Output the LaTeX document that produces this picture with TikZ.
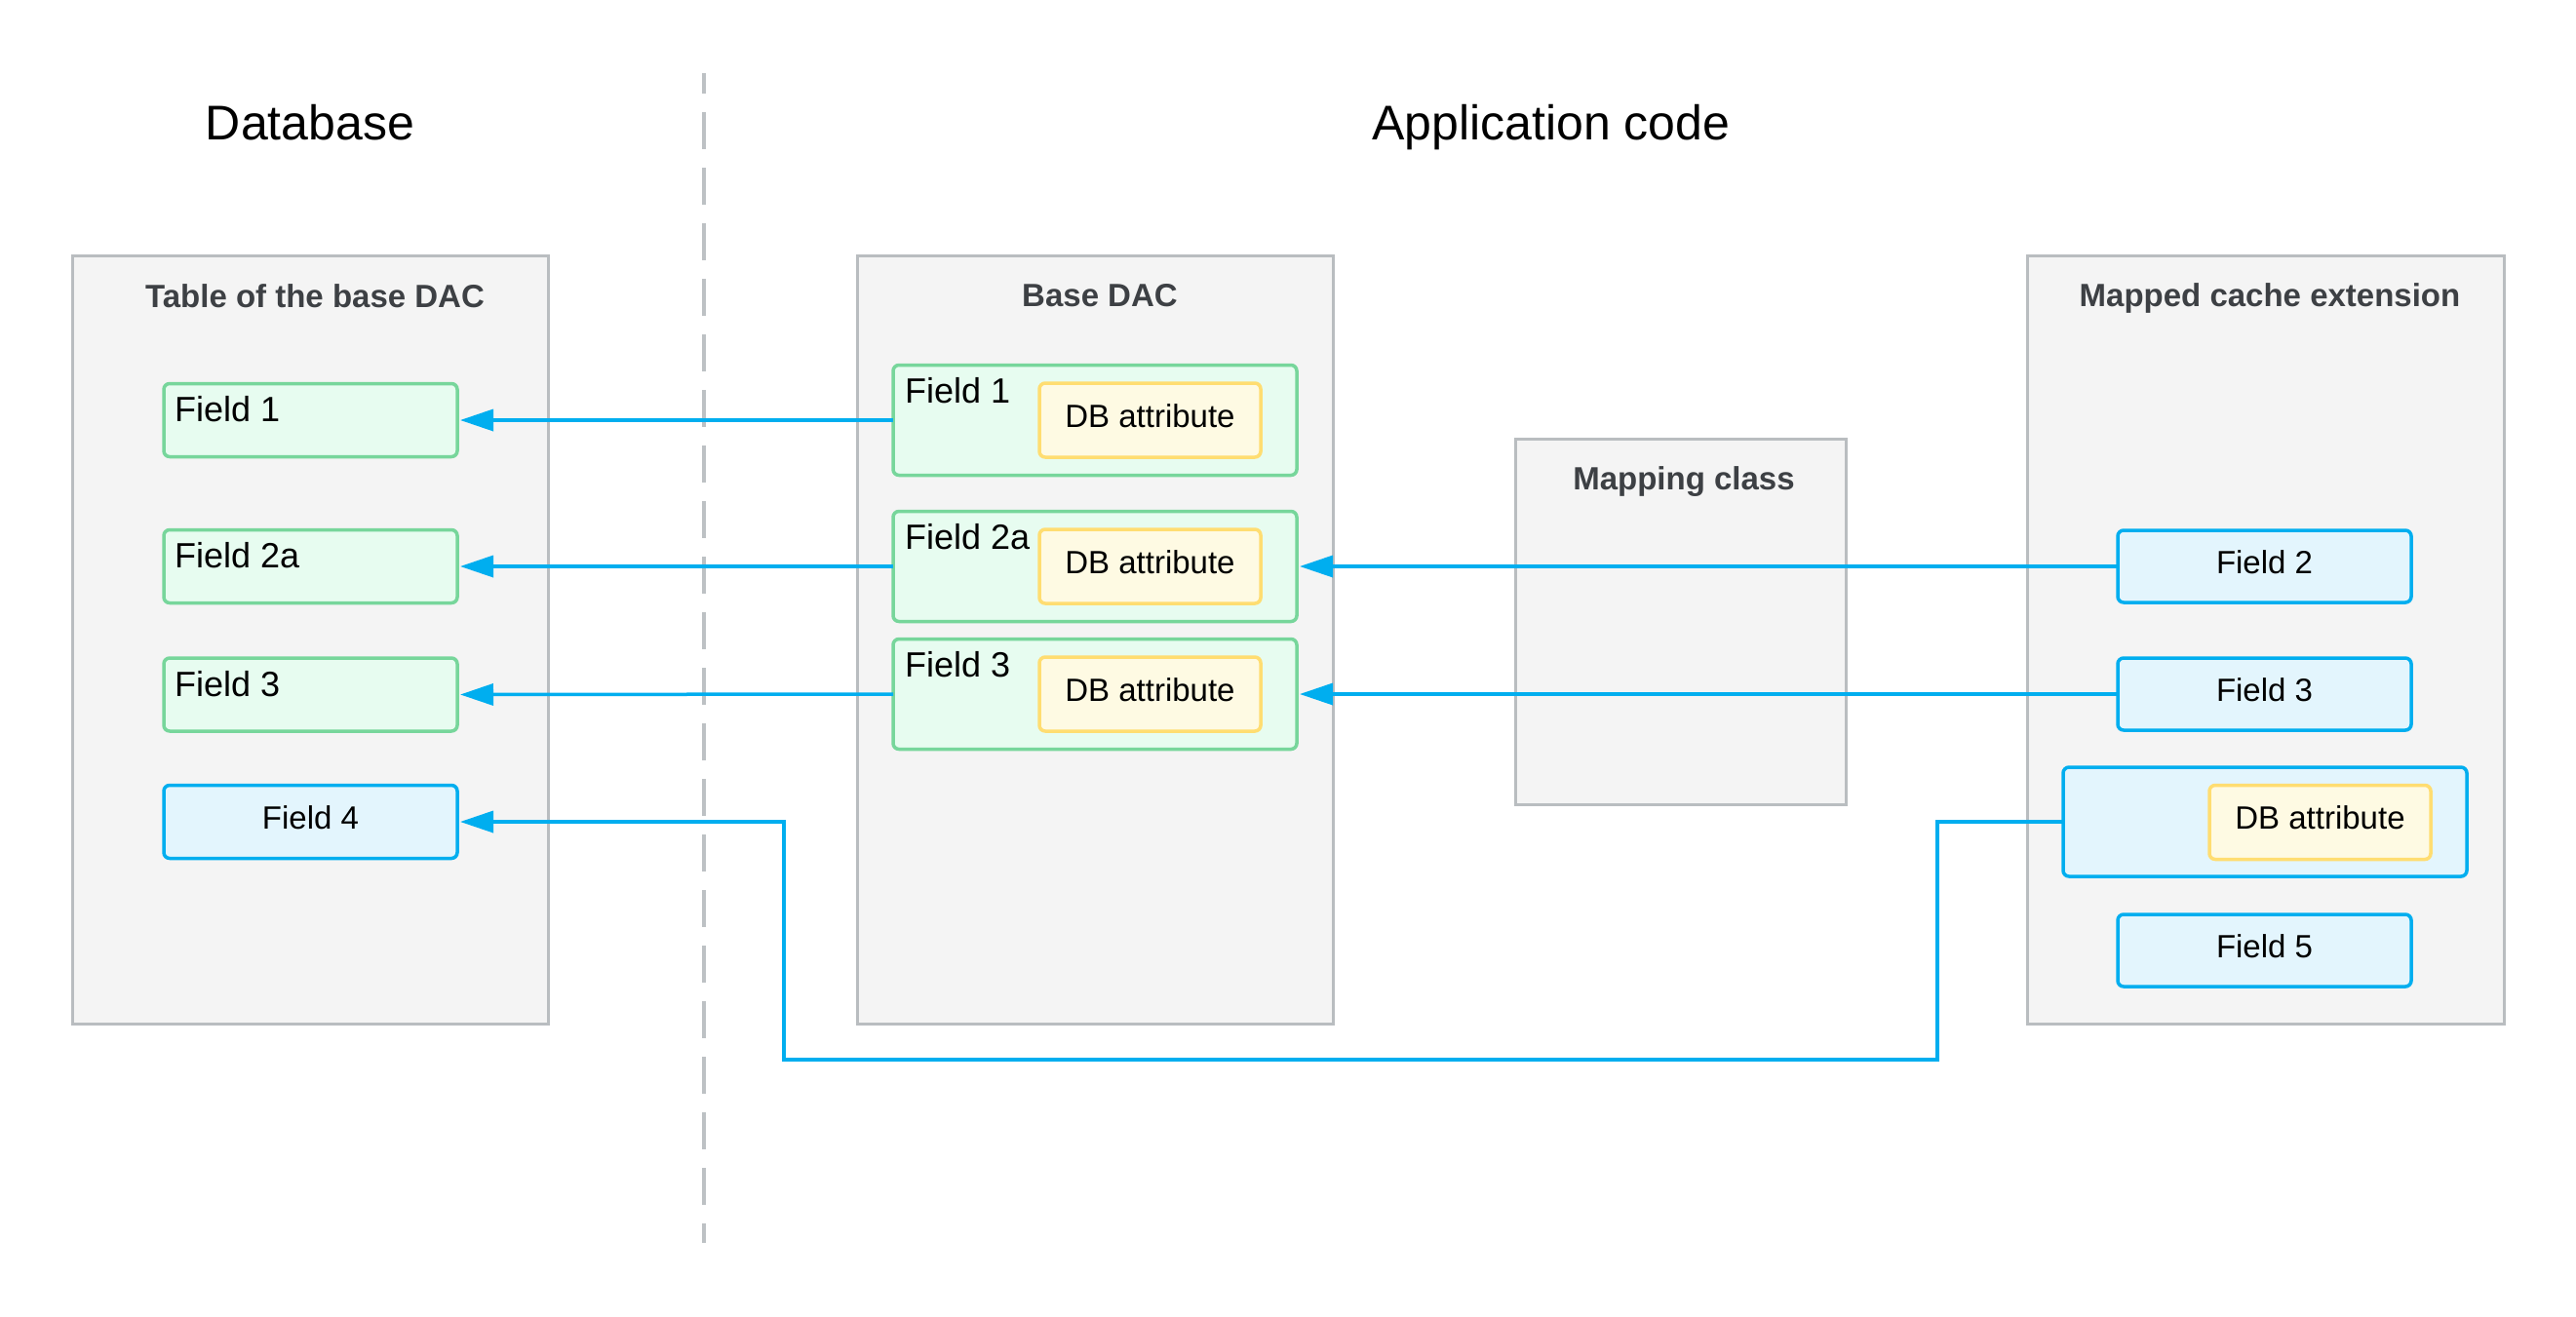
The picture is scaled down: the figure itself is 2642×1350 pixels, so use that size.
\documentclass[tikz,border=0pt]{standalone}
\usepackage{fontspec}
\setmainfont{Liberation Sans}
\usetikzlibrary{arrows.meta}
\definecolor{contfill}{HTML}{F4F4F4}
\definecolor{contdraw}{HTML}{B9BDC0}
\definecolor{greenfill}{HTML}{E7FCF0}
\definecolor{greendraw}{HTML}{77D69B}
\definecolor{bluefill}{HTML}{E3F5FD}
\definecolor{bluedraw}{HTML}{00AEEF}
\definecolor{yelfill}{HTML}{FEFAE3}
\definecolor{yeldraw}{HTML}{FFDD71}
\definecolor{titlecol}{HTML}{3D4044}
\definecolor{dashcol}{HTML}{BDC1C4}
\begin{document}
\begin{tikzpicture}[x=1pt,y=-1pt,
  container/.style={draw=contdraw, fill=contfill, line width=3pt, inner sep=0pt, outer sep=0pt},
  ctitle/.style={text=titlecol, font=\bfseries\fontsize{33}{40}\selectfont, inner sep=0pt, text height=24pt, text depth=0pt},
  heading/.style={font=\fontsize{50}{60}\selectfont, inner sep=0pt, text height=36pt, text depth=0pt},
  greenbox/.style={draw=greendraw, fill=greenfill, line width=3.5pt, rounded corners=6pt, inner sep=0pt, outer sep=0pt},
  bluebox/.style={draw=bluedraw, fill=bluefill, line width=3.5pt, rounded corners=6pt, inner sep=0pt, outer sep=0pt, font=\fontsize{33}{40}\selectfont, text height=24pt, text depth=10pt},
  yelbox/.style={draw=yeldraw, fill=yelfill, line width=3.5pt, rounded corners=6pt, inner sep=0pt, outer sep=0pt, minimum width=227pt, minimum height=76pt, font=\fontsize{33}{40}\selectfont, text height=24pt, text depth=10pt},
  lbl/.style={font=\fontsize{36}{43}\selectfont, inner sep=0pt, anchor=base west},
  conn/.style={draw=bluedraw, line width=3.5pt, -{Triangle[length=34pt,width=22pt]}, shorten >=3pt},
  divider/.style={draw=dashcol, line width=4pt, dash pattern=on 38pt off 19pt, dash phase=17pt}
]
\useasboundingbox (0,0) rectangle (2642,1350);
\fill[white] (0,0) rectangle (2642,1350);

% headings
\node[heading] (hdb) at (318,125) {Database};
\node[heading] (happ) at (1591,125) {Application code};

% divider
\coordinate (dtop) at (722,75);
\coordinate (dbot) at (722,1275);
\draw[divider] (dtop) -- (dbot);

% containers
\node[container, minimum width=488pt, minimum height=788pt] (table) at (318,656) {};
\node[ctitle] (tabletitle) at (323,303) {Table of the base DAC};
\node[container, minimum width=488pt, minimum height=788pt] (base) at (1123,656) {};
\node[ctitle] (basetitle) at (1128,302) {Base DAC};
\node[container, minimum width=339pt, minimum height=375pt] (mapping) at (1723.5,637.5) {};
\node[ctitle] (mappingtitle) at (1727,490) {Mapping class};
\node[container, minimum width=489pt, minimum height=788pt] (mapped) at (2323.5,656) {};
\node[ctitle] (mappedtitle) at (2328,302) {Mapped cache extension};

% table fields
\node[greenbox, minimum width=301pt, minimum height=75pt] (tf1) at (318.5,431) {};
\node[lbl] (tf1l) at ([shift={(11,39)}]tf1.north west) {Field 1};
\node[greenbox, minimum width=301pt, minimum height=75pt] (tf2) at (318.5,581) {};
\node[lbl] (tf2l) at ([shift={(11,39)}]tf2.north west) {Field 2a};
\node[greenbox, minimum width=301pt, minimum height=75pt] (tf3) at (318.5,712.5) {};
\node[lbl] (tf3l) at ([shift={(11,39)}]tf3.north west) {Field 3};
\node[bluebox, minimum width=301pt, minimum height=75pt] (tf4) at (318.5,843) {Field 4};

% base DAC fields
\node[greenbox, minimum width=414pt, minimum height=113pt] (bf1) at (1123,431) {};
\node[lbl] (bf1l) at ([shift={(12,39)}]bf1.north west) {Field 1};
\node[yelbox] (ba1) at (1179.5,431) {DB attribute};
\node[greenbox, minimum width=414pt, minimum height=113pt] (bf2) at (1123,581) {};
\node[lbl] (bf2l) at ([shift={(12,39)}]bf2.north west) {Field 2a};
\node[yelbox] (ba2) at (1179.5,581) {DB attribute};
\node[greenbox, minimum width=414pt, minimum height=113pt] (bf3) at (1123,712) {};
\node[lbl] (bf3l) at ([shift={(12,39)}]bf3.north west) {Field 3};
\node[yelbox] (ba3) at (1179.5,712) {DB attribute};

% mapped cache extension fields
\node[bluebox, minimum width=301pt, minimum height=74pt] (mf2) at (2322.5,581) {Field 2};
\node[bluebox, minimum width=301pt, minimum height=74pt] (mf3) at (2322.5,712) {Field 3};
\node[bluebox, minimum width=414pt, minimum height=112pt] (mbig) at (2323,843) {};
\node[yelbox] (ma) at (2379.5,843.5) {DB attribute};
\node[bluebox, minimum width=301pt, minimum height=74pt] (mf5) at (2322.5,975) {Field 5};

% connectors
\draw[conn] (bf1.west) -- (tf1.east);
\draw[conn] (bf2.west) -- (tf2.east);
\draw[conn] (bf3.west) -- (tf3.east);
\draw[conn] (mf2.west) -- (bf2.east);
\draw[conn] (mf3.west) -- (bf3.east);
\coordinate (r1) at (1987,1087);
\coordinate (r2) at (804,1087);
\draw[conn] (mbig.west) -| (r1) -- (r2) |- (tf4.east);
\end{tikzpicture}
\end{document}
